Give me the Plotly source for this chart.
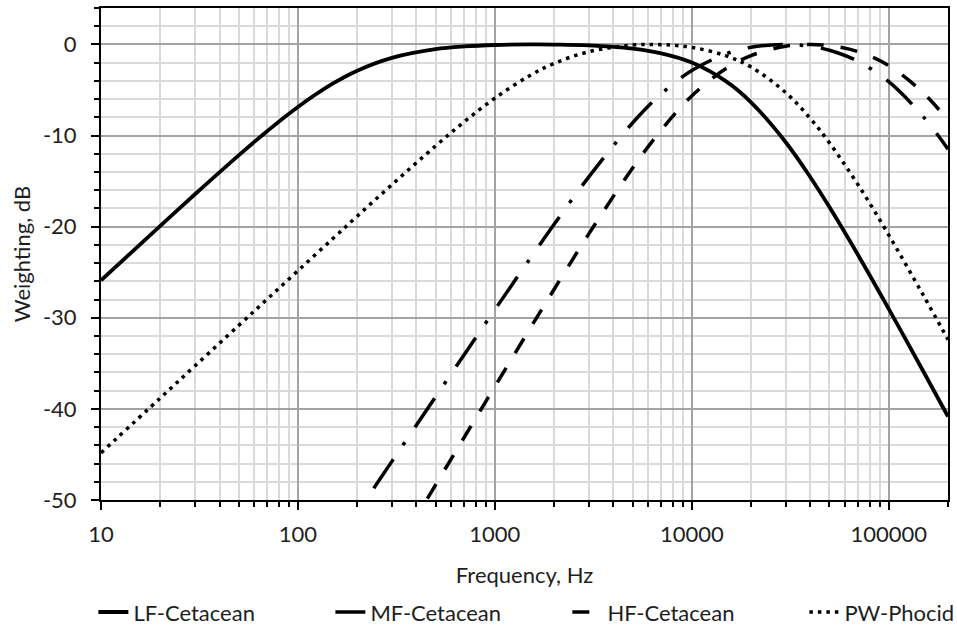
import plotly.graph_objects as go

freq_hz = [10, 20, 30, 50, 70, 100, 150, 200, 300, 500, 700, 1000, 1500, 2000, 3000,
           5000, 7000, 10000, 15000, 20000, 30000, 40000, 50000, 70000, 100000, 150000, 200000]

lf_cetacean = [-25.90, -19.91, -16.44, -12.17, -9.49, -6.86, -4.31, -2.88, -1.47, -0.52, -0.22,
               -0.06, 0.00, -0.01, -0.10, -0.46, -0.98, -1.99, -4.08, -6.35, -10.73, -14.57,
               -17.85, -23.14, -29.03, -35.90, -40.84]
mf_cetacean = [None, None, None, None, None, None, -55.39, -51.39, -45.76, -38.68, -34.02,
               -29.11, -23.59, -19.74, -14.53, -8.62, -5.42, -2.86, -1.02, -0.31, 0.00, -0.21,
               -0.64, -1.86, -4.09, -7.95, -11.49]
hf_cetacean = [None, None, None, None, None, None, None, -62.65, -56.32, -48.34, -43.09,
               -37.54, -31.27, -26.87, -20.79, -13.59, -9.38, -5.65, -2.61, -1.22, -0.19, 0.00,
               -0.12, -0.80, -2.33, -5.33, -8.33]
pw_phocid = [-44.83, -38.81, -35.28, -30.85, -27.93, -24.84, -21.33, -18.85, -15.39, -11.14, -8.48,
             -5.90, -3.43, -2.08, -0.80, -0.07, -0.02, -0.32, -1.26, -2.48, -5.29, -8.13,
             -10.80, -15.43, -20.91, -27.55, -32.40]

series_names = ["LF-Cetacean", "MF-Cetacean", "HF-Cetacean", "PW-Phocid"]
x_major_ticks = [10, 100, 1000, 10000, 100000]
x_tick_labels = ["10", "100", "1000", "10000", "100000"]
x_minor_ticks = [m * d for d in [10, 100, 1000, 10000, 100000] for m in range(2, 10) if m * d <= 200000]
y_major_ticks = [-50, -40, -30, -20, -10, 0]
y_tick_labels = ["-50", "-40", "-30", "-20", "-10", "0"]

styles = [
    dict(width=3.8, dash="solid"),
    dict(width=3.5, dash="35px,17px,3.5px,18px"),
    dict(width=3.5, dash="17px,17px"),
    dict(width=3.5, dash="3.5px,5px"),
]

fig = go.Figure()
for name, ys, st in zip(series_names, [lf_cetacean, mf_cetacean, hf_cetacean, pw_phocid], styles):
    fig.add_trace(go.Scatter(
        x=freq_hz, y=ys, name=name, mode="lines",
        line=dict(color="black", width=st["width"], dash=st["dash"], shape="spline", smoothing=1.0),
        connectgaps=False,
    ))

font_family = "Lato, Carlito, 'Open Sans', sans-serif"
txt = "#1e1e1e"

fig.update_layout(
    width=957, height=628,
    margin=dict(l=101, r=9, t=8, b=128, autoexpand=False),
    paper_bgcolor="white", plot_bgcolor="white",
    font=dict(family=font_family, size=22, color=txt),
    showlegend=True,
    legend=dict(orientation="h", x=-0.009, xanchor="left", y=-0.228, yanchor="middle",
                font=dict(size=22, color=txt), entrywidth=192, entrywidthmode="pixels",
                tracegroupgap=0, bgcolor="rgba(0,0,0,0)"),
)

fig.update_xaxes(
    type="log", range=[1, 5.30103],
    tickmode="array", tickvals=x_major_ticks, ticktext=x_tick_labels,
    ticks="outside", ticklen=8, tickwidth=1.5, tickcolor="black",
    ticklabelstandoff=6,
    showgrid=True, gridcolor="#a3a3a3", gridwidth=1.5,
    minor=dict(tickmode="array", tickvals=x_minor_ticks, ticks="outside", ticklen=5,
               tickwidth=1.5, tickcolor="black", showgrid=True, gridcolor="#dadada", gridwidth=2),
    showline=True, linecolor="black", linewidth=2, mirror=True,
    title=dict(text="Frequency, Hz", font=dict(size=22, color=txt), standoff=21),
    tickfont=dict(size=22, color=txt),
    zeroline=False, automargin=False,
)

fig.update_yaxes(
    range=[-50, 4],
    tickmode="array", tickvals=y_major_ticks, ticktext=y_tick_labels,
    ticks="outside", ticklen=8, tickwidth=1.5, tickcolor="black",
    ticklabelstandoff=10,
    showgrid=True, gridcolor="#a3a3a3", gridwidth=1.5,
    minor=dict(dtick=2, tick0=0, ticks="outside", ticklen=5, tickwidth=1.5, tickcolor="black",
               showgrid=True, gridcolor="#dadada", gridwidth=2),
    showline=True, linecolor="black", linewidth=2, mirror=True,
    title=dict(text="Weighting, dB", font=dict(size=22, color=txt), standoff=6),
    tickfont=dict(size=22, color=txt),
    zeroline=False, automargin=False,
)

fig.write_html("out.html", config={"displayModeBar": False},
               post_script="document.body.style.margin='0';document.body.style.overflow='hidden';")
